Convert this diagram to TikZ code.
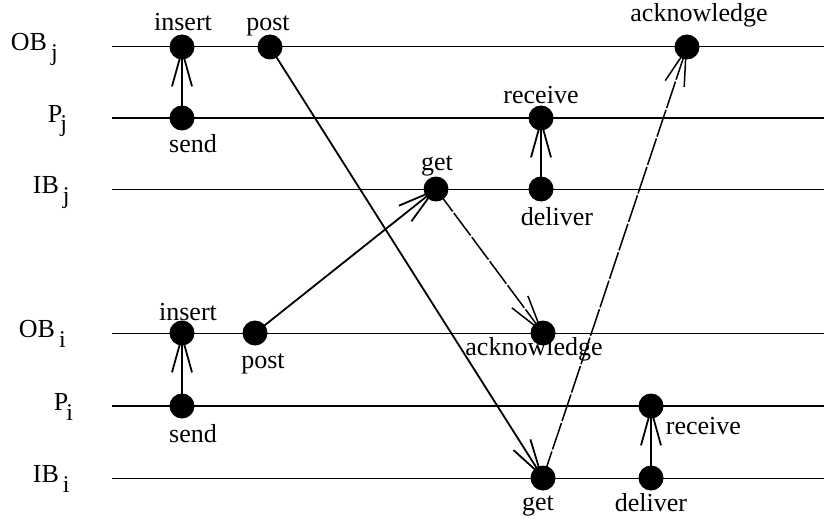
\documentclass[tikz,border=0pt]{standalone}
\usepackage{fontspec}
\setmainfont{Liberation Serif}
\usetikzlibrary{arrows.meta}
\newcommand{\lsub}[1]{\raisebox{-5pt}{\fontsize{12}{12}\selectfont #1}}

\begin{document}
\begin{tikzpicture}[x=0.5pt,y=-0.5pt,->,>={Straight Barb[length=18pt,width=10pt]},
					line width=0.9pt,
					dot/.style={circle,fill,inner sep=0pt,minimum size=12.5pt},
					lbl/.style={anchor=base,inner sep=0pt,font=\fontsize{13}{15}\selectfont},
					lane/.style={-,line width=0.5pt},
					proc/.style={-,line width=1pt},
					ack/.style={line width=0.75pt,dash pattern=on 14pt off 1pt}]
					\useasboundingbox (0,0) rectangle (824,519);

					% lanes
					\draw[lane] (112,47) -- (824,47);
					\draw[proc] (112,118) -- (824,118);
					\draw[lane] (112,189) -- (824,189);
					\draw[lane] (112,333) -- (824,333);
					\draw[proc] (112,406) -- (824,406);
					\draw[lane] (112,478) -- (824,478);

					\node[lbl,anchor=base west] (obj) at (10,51) {OB\hspace{2pt}\lsub{j}};
					\node[lbl,anchor=base west] (pj) at (47,122) {P\hspace{-1pt}\lsub{j}};
					\node[lbl,anchor=base west] (ibj) at (32,193) {IB\hspace{2pt}\lsub{j}};
					\node[lbl,anchor=base west] (obi) at (18,337) {OB\hspace{2pt}\lsub{i}};
					\node[lbl,anchor=base west] (pi) at (53,410) {P\hspace{-1pt}\lsub{i}};
					\node[lbl,anchor=base west] (ibi) at (32,482) {IB\hspace{2pt}\lsub{i}};

					% events
					\node[dot] (insj) at (182,47) {};
					\node[dot] (postj) at (270,47) {};
					\node[dot] (ackj) at (687,47) {};
					\node[dot] (sendj) at (182,118) {};
					\node[dot] (recvj) at (541,118) {};
					\node[dot] (getj) at (436,189) {};
					\node[dot] (delj) at (541,189) {};
					\node[dot] (insi) at (182,333) {};
					\node[dot] (posti) at (255,333) {};
					\node[dot] (acki) at (543,333) {};
					\node[dot] (sendi) at (182,406) {};
					\node[dot] (recvi) at (651,406) {};
					\node[dot] (geti) at (543,478) {};
					\node[dot] (deli) at (651,478) {};

					\node[lbl] (tinsj) at (183,31) {insert};
					\node[lbl] (tpostj) at (268,31) {post};
					\node[lbl] (tackj) at (699,22) {acknowledge};
					\node[lbl] (tsendj) at (193,152) {send};
					\node[lbl] (trecvj) at (541,104) {receive};
					\node[lbl] (tgetj) at (437,170) {get};
					\node[lbl] (tdelj) at (557,225) {deliver};
					\node[lbl] (tinsi) at (188,320) {insert};
					\node[lbl] (tposti) at (263,368) {post};
					\node[lbl] (tacki) at (534,355) {acknowledge};
					\node[lbl] (tsendi) at (193,442) {send};
					\node[lbl,anchor=base west] (trecvi) at (665,434) {receive};
					\node[lbl] (tgeti) at (538,510) {get};
					\node[lbl] (tdeli) at (651,511) {deliver};

					\path
					(sendj.center) edge (insj.center)
					(delj.center) edge (recvj.center)
					(sendi.center) edge (insi.center)
					(deli.center) edge (recvi.center)
					(postj.center) edge (geti.center)
					(posti.center) edge (getj.center);
					\path[ack]
					(getj.center) edge (acki.center)
					(geti.center) edge (ackj.center);
				\end{tikzpicture}
\end{document}
